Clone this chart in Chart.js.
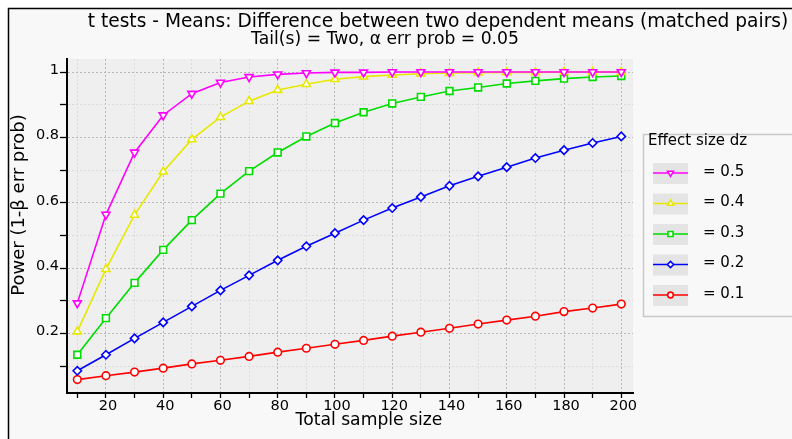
<!DOCTYPE html>
<html>
<head>
<meta charset="utf-8">
<script src="https://cdn.jsdelivr.net/npm/chart.js@4/dist/chart.umd.min.js"></script>
<style>
  html, body { margin: 0; padding: 0; background: #ffffff; }
  #wrap { width: 792px; height: 439px; }
</style>
</head>
<body>
<div id="wrap"><canvas id="power-chart"></canvas></div>
<script>
// total sample sizes on the x axis
const sampleSizes = [10, 20, 30, 40, 50, 60, 70, 80, 90, 100, 110, 120, 130, 140, 150, 160, 170, 180, 190, 200];

// power (1-beta) per effect size dz
const powerDz05 = [0.293, 0.564, 0.754, 0.868, 0.934, 0.968, 0.985, 0.993, 0.997, 0.999, 0.999, 1.0, 1.0, 1.0, 1.0, 1.0, 1.0, 1.0, 1.0, 1.0];
const powerDz04 = [0.206, 0.397, 0.563, 0.695, 0.794, 0.862, 0.911, 0.945, 0.963, 0.978, 0.986, 0.991, 0.995, 0.997, 0.998, 0.999, 0.999, 1.0, 1.0, 1.0];
const powerDz03 = [0.135, 0.247, 0.355, 0.456, 0.547, 0.628, 0.697, 0.754, 0.803, 0.844, 0.877, 0.904, 0.924, 0.942, 0.953, 0.965, 0.973, 0.980, 0.985, 0.988];
const powerDz02 = [0.086, 0.135, 0.185, 0.234, 0.283, 0.332, 0.378, 0.424, 0.467, 0.507, 0.547, 0.584, 0.618, 0.652, 0.681, 0.709, 0.737, 0.761, 0.783, 0.803];
const powerDz01 = [0.059, 0.071, 0.082, 0.094, 0.107, 0.118, 0.130, 0.143, 0.155, 0.167, 0.179, 0.192, 0.204, 0.216, 0.229, 0.241, 0.253, 0.267, 0.278, 0.290];

const seriesLabels = ['= 0.5', '= 0.4', '= 0.3', '= 0.2', '= 0.1'];

// ticks: every 10 / 0.1, labels only on the even ones
const xTicks = [10, 20, 30, 40, 50, 60, 70, 80, 90, 100, 110, 120, 130, 140, 150, 160, 170, 180, 190, 200];
const xTickLabels = ['20', '40', '60', '80', '100', '120', '140', '160', '180', '200'];
const yTicks = [0.1, 0.2, 0.3, 0.4, 0.5, 0.6, 0.7, 0.8, 0.9, 1.0];
const yTickLabels = ['0.2', '0.4', '0.6', '0.8', '1'];

const titleLine1 = 't tests - Means: Difference between two dependent means (matched pairs)';
const titleLine2 = 'Tail(s) = Two, \u03b1 err prob = 0.05';
const xTitle = 'Total sample size';
const yTitle = 'Power (1-\u03b2 err prob)';
const legendTitle = 'Effect size dz';

const FONT = '"DejaVu Sans", "Liberation Sans", sans-serif';

function toPoints(values) {
    return sampleSizes.map((n, i) => ({ x: n, y: values[i] }));
}

function makeDataset(label, values, color, style, radius, rotation) {
    return {
        label: label,
        data: toPoints(values),
        borderColor: color,
        backgroundColor: '#ffffff',
        borderWidth: 1.6,
        pointStyle: style,
        pointRotation: rotation || 0,
        pointRadius: radius,
        pointHoverRadius: radius,
        pointBorderWidth: 1.6,
        pointBorderColor: color,
        pointBackgroundColor: '#ffffff',
        tension: 0
    };
}

function drawMarker(ctx, style, rotation, r, x, y) {
    if (Chart.helpers && Chart.helpers.drawPoint) {
        Chart.helpers.drawPoint(ctx, { pointStyle: style, rotation: rotation, radius: r, borderWidth: 1.4 }, x, y);
        return;
    }
    ctx.beginPath();
    ctx.arc(x, y, r, 0, Math.PI * 2);
    ctx.fill();
    ctx.stroke();
}

const framePlugin = {
    id: 'frame',
    beforeDraw(chart) {
        const ctx = chart.ctx;
        ctx.save();
        ctx.fillStyle = '#ffffff';
        ctx.fillRect(0, 0, chart.width, chart.height);
        ctx.fillStyle = '#f8f8f8';
        ctx.fillRect(8, 8, chart.width, chart.height);
        ctx.strokeStyle = '#000000';
        ctx.lineWidth = 1.5;
        ctx.beginPath();
        ctx.moveTo(8.5, chart.height);
        ctx.lineTo(8.5, 8.5);
        ctx.lineTo(chart.width, 8.5);
        ctx.stroke();
        const a = chart.chartArea;
        ctx.fillStyle = '#efefef';
        ctx.fillRect(a.left, a.top, a.right - a.left, a.bottom - a.top);
        ctx.restore();
    },
    afterDraw(chart) {
        const ctx = chart.ctx;
        ctx.save();
        ctx.fillStyle = '#000000';
        ctx.textAlign = 'center';
        ctx.textBaseline = 'alphabetic';
        ctx.font = '18.6px ' + FONT;
        ctx.fillText(titleLine1, 438, 27);
        ctx.font = '17.2px ' + FONT;
        ctx.fillText(titleLine2, 385, 44);

        ctx.textBaseline = 'middle';
        ctx.font = '17.2px ' + FONT;
        ctx.fillText(xTitle, 369, 421);
        ctx.save();
        ctx.translate(19, 205);
        ctx.rotate(-Math.PI / 2);
        ctx.font = '18px ' + FONT;
        ctx.fillText(yTitle, 0, 0);
        ctx.restore();

        // legend box
        ctx.fillStyle = '#f8f8f8';
        ctx.fillRect(643, 134, chart.width, 182);
        ctx.strokeStyle = '#c8c8c8';
        ctx.lineWidth = 1.5;
        ctx.beginPath();
        ctx.moveTo(chart.width, 316.5);
        ctx.lineTo(643.5, 316.5);
        ctx.lineTo(643.5, 134.5);
        ctx.lineTo(chart.width, 134.5);
        ctx.stroke();
        ctx.fillStyle = '#000000';
        ctx.textAlign = 'left';
        ctx.font = '15px ' + FONT;
        ctx.fillText(legendTitle, 648, 141);

        chart.data.datasets.forEach((ds, i) => {
            const cy = 173 + i * 30.5;
            ctx.fillStyle = '#e4e4e4';
            ctx.fillRect(653, cy - 10, 35, 21);
            ctx.strokeStyle = ds.borderColor;
            ctx.lineWidth = 1.6;
            ctx.beginPath();
            ctx.moveTo(653, cy);
            ctx.lineTo(688, cy);
            ctx.stroke();
            ctx.fillStyle = '#ffffff';
            drawMarker(ctx, ds.pointStyle, ds.pointRotation, ds.pointRadius * 0.75, 670.5, cy);
            ctx.fillStyle = '#000000';
            ctx.font = '15px ' + FONT;
            ctx.fillText(ds.label, 703, cy - 1);
        });
        ctx.restore();
    }
};

const ctx = document.getElementById('power-chart').getContext('2d');
new Chart(ctx, {
    type: 'line',
    data: {
        datasets: [
            makeDataset(seriesLabels[0], powerDz05, '#ff00ff', 'triangle', 4.6, 180),
            makeDataset(seriesLabels[1], powerDz04, '#e8e800', 'triangle', 4.6, 0),
            makeDataset(seriesLabels[2], powerDz03, '#00dd00', 'rect', 4.8, 0),
            makeDataset(seriesLabels[3], powerDz02, '#0000ff', 'rectRot', 4.2, 0),
            makeDataset(seriesLabels[4], powerDz01, '#ff0000', 'circle', 3.8, 0)
        ]
    },
    options: {
        responsive: true,
        maintainAspectRatio: false,
        animation: false,
        layout: {
            padding: { left: 0, top: 59, right: 159, bottom: 0 }
        },
        plugins: {
            legend: { display: false },
            title: { display: false },
            tooltip: { enabled: false }
        },
        scales: {
            x: {
                type: 'linear',
                min: 6.4,
                max: 204.1,
                afterFit: function (scale) { scale.height = 46; },
                afterBuildTicks: function (scale) {
                    scale.ticks = xTicks.map(v => ({ value: v }));
                },
                ticks: {
                    autoSkip: false,
                    maxRotation: 0,
                    padding: 0,
                    labelOffset: 2,
                    color: '#000000',
                    font: { family: FONT, size: 14.5 },
                    callback: function (value) {
                        const s = String(value);
                        return xTickLabels.includes(s) ? s : '';
                    }
                },
                grid: {
                    color: function (c) {
                        return c.tick && c.tick.value % 20 === 0 ? '#b8b8b8' : '#dadada';
                    },
                    lineWidth: 1,
                    tickColor: '#000000',
                    tickLength: 5,
                    tickWidth: 1.3
                },
                border: { color: '#000000', width: 2, dash: [2, 2] }
            },
            y: {
                type: 'linear',
                min: 0.018,
                max: 1.04,
                afterFit: function (scale) { scale.width = 67; },
                afterBuildTicks: function (scale) {
                    scale.ticks = yTicks.map(v => ({ value: v }));
                },
                ticks: {
                    autoSkip: false,
                    padding: 1,
                    labelOffset: -2,
                    color: '#000000',
                    font: { family: FONT, size: 14.5 },
                    callback: function (value) {
                        const s = String(Math.round(value * 10) / 10);
                        return yTickLabels.includes(s) ? s : '';
                    }
                },
                grid: {
                    color: function (c) {
                        if (!c.tick) return '#dadada';
                        return Math.round(c.tick.value * 10) % 2 === 0 ? '#b8b8b8' : '#dadada';
                    },
                    lineWidth: 1,
                    tickColor: '#000000',
                    tickLength: 7,
                    tickWidth: 1.3
                },
                border: { color: '#000000', width: 2, dash: [2, 2] }
            }
        }
    },
    plugins: [framePlugin]
});
</script>
</body>
</html>
